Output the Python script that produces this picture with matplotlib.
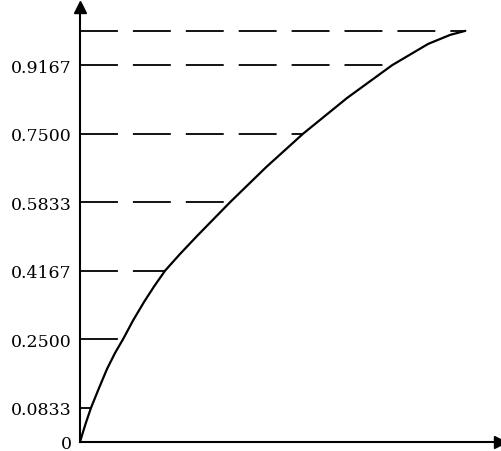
import numpy as np
import matplotlib
matplotlib.use('Agg')
import matplotlib.pyplot as plt

# curve (x normalised to the end of the curve)
curve_x = [0, 0.0078, 0.0143, 0.0286, 0.0494, 0.0701, 0.0909, 0.1117,
           0.1377, 0.1662, 0.1922, 0.2208, 0.2597, 0.3039, 0.3896, 0.4831,
           0.5792, 0.6935, 0.8104, 0.9039, 0.9610, 1.0]
curve_y = [0, 0.0243, 0.0438, 0.0833, 0.1314, 0.1776, 0.2165, 0.25,
           0.2956, 0.3406, 0.3783, 0.4167, 0.4574, 0.5012, 0.5833, 0.6685,
           0.75, 0.8370, 0.9167, 0.9684, 0.9903, 1.0]

# dashed levels and where they meet the curve
levels = [0.0833, 0.25, 0.4167, 0.5833, 0.75, 0.9167, 1.0]
level_x = [0.0286, 0.1117, 0.2208, 0.3896, 0.5792, 0.8104, 1.0]
tick_vals = [0, 0.0833, 0.25, 0.4167, 0.5833, 0.75, 0.9167]
tick_labels = ['0', '0.0833', '0.2500', '0.4167', '0.5833', '0.7500', '0.9167']

fig = plt.figure(figsize=(5.01, 4.52), dpi=100)
ax = fig.add_axes([80 / 501, 9 / 452, 420 / 501, 435 / 452])
ax.set_xlim(0, 1.09)
ax.set_ylim(0, 1.058)

ax.plot(curve_x, curve_y, c='black', linewidth=1.6,
        solid_joinstyle='round', solid_capstyle='round')

for yv, xv in zip(levels, level_x):
    ax.plot([0, xv], [yv, yv], c='black', linewidth=1.3,
            linestyle=(0, (21, 8.3)))

for s in ['top', 'right']:
    ax.spines[s].set_visible(False)
for s in ['left', 'bottom']:
    ax.spines[s].set_linewidth(1.5)

# arrow heads
ax.plot(1.0, 0, marker='>', markersize=9, c='black',
        transform=ax.transAxes, clip_on=False)
ax.plot(0, 1.0, marker='^', markersize=9, c='black',
        transform=ax.transAxes, clip_on=False)

ax.set_xticks([])
ax.set_yticks(tick_vals)
ax.set_yticklabels(tick_labels, family='DejaVu Serif', fontsize=12.5)
ax.tick_params(axis='y', length=0, pad=6)

fig.savefig('out.png', dpi=100)
